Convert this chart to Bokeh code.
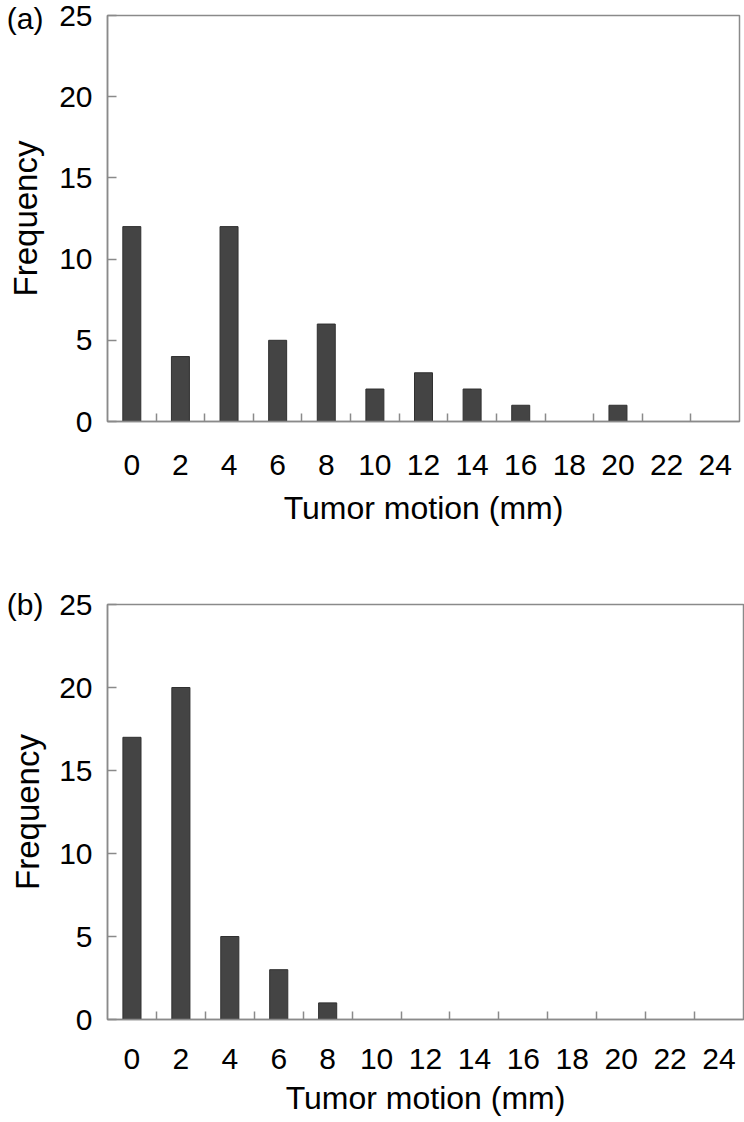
from bokeh.plotting import figure
from bokeh.layouts import column
from bokeh.models import FixedTicker, LinearAxis
from bokeh.embed import file_html
from bokeh.resources import INLINE

# ---- data ----
motion_mm = [0, 2, 4, 6, 8, 10, 12, 14, 16, 18, 20, 22, 24]
freq_a = [12, 4, 12, 5, 6, 2, 3, 2, 1, 0, 1, 0, 0]
freq_b = [17, 20, 5, 3, 1, 0, 0, 0, 0, 0, 0, 0, 0]
y_ticks = [0, 5, 10, 15, 20, 25]
boundary_ticks = [1, 3, 5, 7, 9, 11, 13, 15, 17, 19, 21, 23]
panel_tags = ["(a)", "(b)"]
x_title = "Tumor motion (mm)"
y_title = "Frequency"

FONT = "Liberation Sans"
GRAY = "#8a8a8a"
BAR = "#444444"


def make_panel(freqs, tag, frame_w, frame_h, left_b, right_b, top_b, bottom_b,
               tick_sd, label_sd, tag_sd, ylabel_sd):
    p = figure(frame_width=frame_w, frame_height=frame_h,
               x_range=(-1, 25), y_range=(0, 25),
               output_backend="svg", toolbar_location=None,
               min_border_left=left_b, min_border_right=right_b,
               min_border_top=top_b, min_border_bottom=bottom_b)
    p.vbar(x=motion_mm, top=freqs, width=0.74, fill_color=BAR,
           line_color="#303030", line_width=1)
    p.grid.visible = False
    p.outline_line_color = GRAY
    p.outline_line_width = 1.5
    p.background_fill_color = "white"
    p.border_fill_color = "white"

    xa = p.xaxis[0]
    xa.ticker = FixedTicker(ticks=motion_mm, minor_ticks=boundary_ticks)
    xa.major_tick_in = 0
    xa.major_tick_out = 0
    xa.minor_tick_in = 8
    xa.minor_tick_out = 0
    xa.minor_tick_line_color = GRAY
    xa.minor_tick_line_width = 1.5
    xa.axis_line_color = GRAY
    xa.axis_line_width = 1.5
    xa.major_label_text_font = FONT
    xa.major_label_text_font_size = "30px"
    xa.major_label_text_color = "black"
    xa.major_label_standoff = tick_sd
    xa.axis_label = x_title
    xa.axis_label_text_font = FONT
    xa.axis_label_text_font_size = "32px"
    xa.axis_label_text_font_style = "normal"
    xa.axis_label_text_color = "black"
    xa.axis_label_standoff = label_sd

    ya = p.yaxis[0]
    ya.ticker = FixedTicker(ticks=y_ticks, minor_ticks=[])
    ya.major_tick_in = 9
    ya.major_tick_out = 0
    ya.major_tick_line_color = GRAY
    ya.major_tick_line_width = 1.5
    ya.minor_tick_line_color = None
    ya.axis_line_color = GRAY
    ya.axis_line_width = 1.5
    ya.major_label_text_font = FONT
    ya.major_label_text_font_size = "30px"
    ya.major_label_text_color = "black"
    ya.major_label_standoff = 15

    # outer left axis: carries the panel tag "(a)"/"(b)" and the y title
    tag_axis = LinearAxis(ticker=FixedTicker(ticks=[25], minor_ticks=[]),
                          major_label_overrides={25: tag})
    tag_axis.axis_line_color = None
    tag_axis.major_tick_line_color = None
    tag_axis.minor_tick_line_color = None
    tag_axis.major_tick_in = 0
    tag_axis.major_tick_out = 0
    tag_axis.major_label_text_font = FONT
    tag_axis.major_label_text_font_size = "30px"
    tag_axis.major_label_text_color = "black"
    tag_axis.major_label_standoff = tag_sd
    tag_axis.axis_label = y_title
    tag_axis.axis_label_text_font = FONT
    tag_axis.axis_label_text_font_size = "33px"
    tag_axis.axis_label_text_font_style = "normal"
    tag_axis.axis_label_text_color = "black"
    tag_axis.axis_label_standoff = ylabel_sd
    p.add_layout(tag_axis, "left")
    return p


pa = make_panel(freq_a, panel_tags[0], 632, 406, 106, 6, 15, 139, 33, 12, 13, -40)
pb = make_panel(freq_b, panel_tags[1], 636, 415, 107, 1, 44, 103, 29, 8, 13, -42)

layout = column(pa, pb, spacing=0)
open("out.html", "w").write(file_html(layout, INLINE))
